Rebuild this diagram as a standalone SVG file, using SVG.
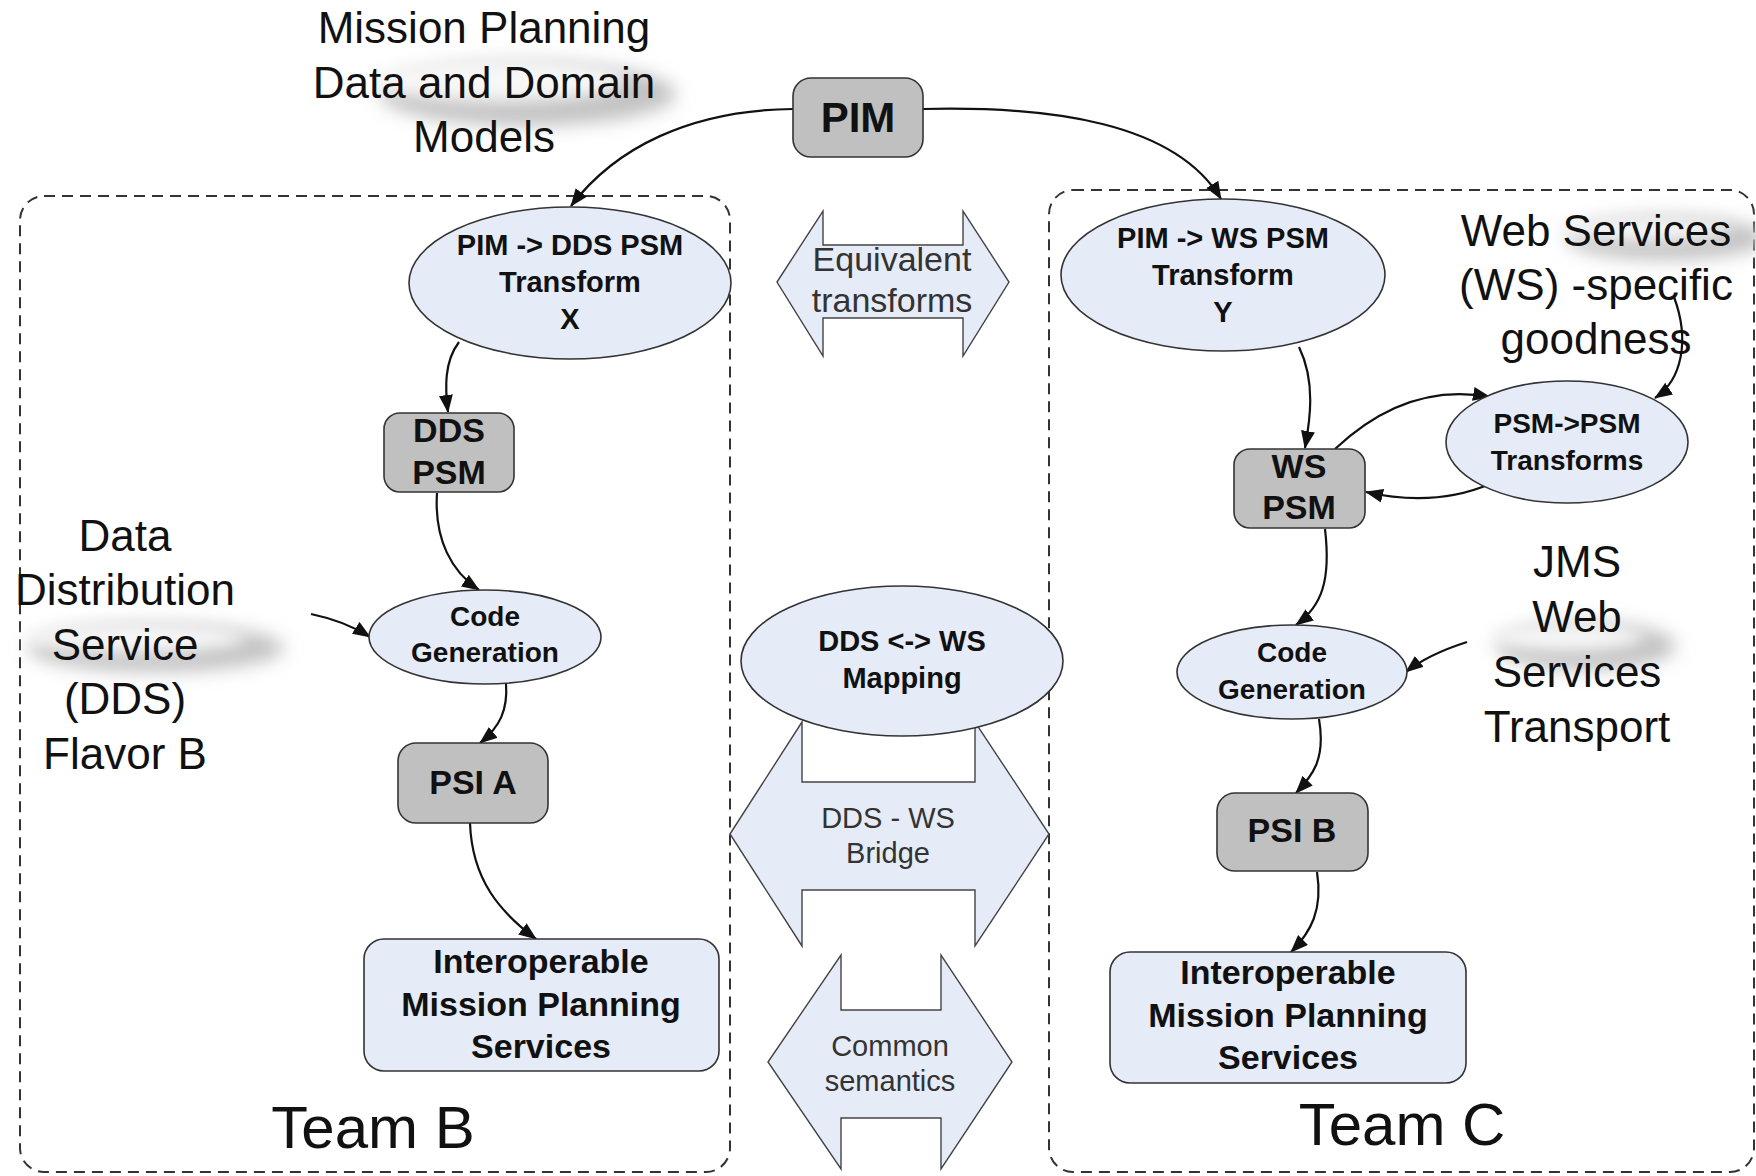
<svg xmlns="http://www.w3.org/2000/svg" width="1756" height="1176" viewBox="0 0 1756 1176">
<style>
.bg{fill:#ffffff}
.team{fill:none;stroke:#333;stroke-width:2;stroke-dasharray:11 7}
.blue{fill:#e5ebf7;stroke:#333;stroke-width:1.6}
.gray{fill:#c0c0c0;stroke:#333;stroke-width:1.6}
.big{fill:#e5ebf7;stroke:#444;stroke-width:1.4}
.b{font-family:"Liberation Sans",Arial,sans-serif;font-weight:bold;fill:#111;text-anchor:middle}
.r{font-family:"Liberation Sans",Arial,sans-serif;fill:#111;text-anchor:middle}
.g{font-family:"Liberation Sans",Arial,sans-serif;fill:#333;text-anchor:middle}
.c{fill:none;stroke:#111;stroke-width:2.2;marker-end:url(#ah)}
.cs{fill:#c2c2c2;filter:url(#blurA)}
.cw{fill:#f7f7f7;filter:url(#blurB)}
</style>
<defs>
<marker id="ah" markerUnits="userSpaceOnUse" markerWidth="20" markerHeight="16" refX="17" refY="7" orient="auto">
<path d="M0,0 L18,7 L0,14 Z" fill="#111"/>
</marker>
<filter id="blurA" x="-50%" y="-50%" width="200%" height="200%"><feGaussianBlur stdDeviation="9"/></filter>
<filter id="blurB" x="-50%" y="-50%" width="200%" height="200%"><feGaussianBlur stdDeviation="8"/></filter>
</defs>
<rect class="bg" x="0" y="0" width="1756" height="1176"/>

<g id="team-b"><rect class="team" x="20" y="196" width="710" height="976" rx="24"/></g>
<g id="team-c"><rect class="team" x="1049" y="190" width="705" height="982" rx="24"/></g>

<g id="equivalent-transforms">
<path class="big" d="M777,282 L823,211 L823,245 L963,245 L963,211 L1009,282 L963,356 L963,318 L823,318 L823,356 Z"/>
<text class="g" x="892" y="271" font-size="34" fill="#222">Equivalent</text>
<text class="g" x="892" y="312" font-size="34" fill="#222">transforms</text>
</g>

<g id="dds-ws-bridge">
<path class="big" d="M730,834 L802,722 L802,782 L975,782 L975,722 L1049,834 L975,946 L975,890 L802,890 L802,946 Z"/>
<text class="g" x="888" y="828" font-size="29">DDS - WS</text>
<text class="g" x="888" y="863" font-size="29">Bridge</text>
</g>

<g id="common-semantics">
<path class="big" d="M768,1062 L841,955 L841,1010 L941,1010 L941,955 L1012,1062 L941,1169 L941,1118 L841,1118 L841,1169 Z"/>
<text class="g" x="890" y="1056" font-size="29">Common</text>
<text class="g" x="890" y="1091" font-size="29">semantics</text>
</g>

<g id="dds-ws-mapping">
<ellipse class="blue" cx="902" cy="661" rx="161" ry="75"/>
<text class="b" x="902" y="651" font-size="29">DDS &lt;-&gt; WS</text>
<text class="b" x="902" y="688" font-size="29">Mapping</text>
</g>

<g id="connectors">
<path class="c" d="M793,109 C690,110 615,148 571,206"/>
<path class="c" d="M923,109 C1050,106 1175,122 1221,199"/>
<path class="c" d="M459,342 C444,362 445,388 448,412"/>
<path class="c" d="M437,493 C434,540 452,572 479,590"/>
<path class="c" d="M311,614 C335,619 353,626 370,637"/>
<path class="c" d="M506,683 C508,710 500,727 480,743"/>
<path class="c" d="M470,823 C472,880 500,912 536,939"/>
<path class="c" d="M1299,347 C1316,382 1310,420 1305,448"/>
<path class="c" d="M1335,449 C1368,418 1420,384 1490,397"/>
<path class="c" d="M1490,484 C1452,500 1410,502 1366,492"/>
<path class="c" d="M1674,297 C1690,340 1682,380 1655,398"/>
<path class="c" d="M1325,529 C1331,580 1322,606 1296,625"/>
<path class="c" d="M1467,642 C1442,650 1421,660 1406,672"/>
<path class="c" d="M1319,719 C1326,760 1312,776 1296,793"/>
<path class="c" d="M1317,872 C1323,910 1311,932 1291,952"/>
</g>

<g id="clouds">
<ellipse class="cs" cx="528" cy="94" rx="148" ry="32"/>
<ellipse class="cw" cx="498" cy="80" rx="128" ry="22"/>
<ellipse class="cs" cx="156" cy="648" rx="128" ry="24"/>
<ellipse class="cw" cx="136" cy="638" rx="110" ry="15"/>
<ellipse class="cs" cx="1666" cy="238" rx="100" ry="22"/>
<ellipse class="cw" cx="1646" cy="229" rx="85" ry="12"/>
<ellipse class="cs" cx="1586" cy="646" rx="90" ry="24"/>
<ellipse class="cw" cx="1568" cy="637" rx="76" ry="14"/>
</g>

<g id="pim">
<rect class="gray" x="793" y="78" width="130" height="79" rx="18"/>
<text class="b" x="858" y="132" font-size="42">PIM</text>
</g>

<g id="pim-dds-transform">
<ellipse class="blue" cx="570" cy="283" rx="161" ry="76"/>
<text class="b" x="570" y="255" font-size="29">PIM -&gt; DDS PSM</text>
<text class="b" x="570" y="292" font-size="29">Transform</text>
<text class="b" x="570" y="329" font-size="29">X</text>
</g>

<g id="pim-ws-transform">
<ellipse class="blue" cx="1223" cy="275" rx="162" ry="76"/>
<text class="b" x="1223" y="248" font-size="29">PIM -&gt; WS PSM</text>
<text class="b" x="1223" y="285" font-size="29">Transform</text>
<text class="b" x="1223" y="322" font-size="29">Y</text>
</g>

<g id="dds-psm">
<rect class="gray" x="384" y="413" width="130" height="79" rx="16"/>
<text class="b" x="449" y="442" font-size="34">DDS</text>
<text class="b" x="449" y="484" font-size="34">PSM</text>
</g>

<g id="ws-psm">
<rect class="gray" x="1234" y="449" width="131" height="79" rx="16"/>
<text class="b" x="1299" y="478" font-size="34">WS</text>
<text class="b" x="1299" y="519" font-size="34">PSM</text>
</g>

<g id="psm-psm-transforms">
<ellipse class="blue" cx="1567" cy="442" rx="121" ry="61"/>
<text class="b" x="1567" y="433" font-size="28">PSM-&gt;PSM</text>
<text class="b" x="1567" y="470" font-size="28">Transforms</text>
</g>

<g id="code-gen-b">
<ellipse class="blue" cx="485" cy="637" rx="116" ry="47"/>
<text class="b" x="485" y="626" font-size="28">Code</text>
<text class="b" x="485" y="662" font-size="28">Generation</text>
</g>

<g id="code-gen-c">
<ellipse class="blue" cx="1292" cy="672" rx="115" ry="47"/>
<text class="b" x="1292" y="662" font-size="28">Code</text>
<text class="b" x="1292" y="699" font-size="28">Generation</text>
</g>

<g id="psi-a">
<rect class="gray" x="398" y="743" width="150" height="80" rx="18"/>
<text class="b" x="473" y="794" font-size="34">PSI A</text>
</g>

<g id="psi-b">
<rect class="gray" x="1217" y="793" width="151" height="78" rx="18"/>
<text class="b" x="1292" y="842" font-size="34">PSI B</text>
</g>

<g id="interop-b">
<rect class="blue" x="364" y="939" width="355" height="132" rx="20"/>
<text class="b" x="541" y="973" font-size="34">Interoperable</text>
<text class="b" x="541" y="1016" font-size="34">Mission Planning</text>
<text class="b" x="541" y="1058" font-size="34">Services</text>
</g>

<g id="interop-c">
<rect class="blue" x="1110" y="952" width="356" height="131" rx="20"/>
<text class="b" x="1288" y="984" font-size="34">Interoperable</text>
<text class="b" x="1288" y="1027" font-size="34">Mission Planning</text>
<text class="b" x="1288" y="1069" font-size="34">Services</text>
</g>

<g id="mission-planning-data">
<text class="r" x="484" y="43" font-size="44">Mission Planning</text>
<text class="r" x="484" y="98" font-size="44">Data and Domain</text>
<text class="r" x="484" y="152" font-size="44">Models</text>
</g>

<g id="dds-flavor-b">
<text class="r" x="125" y="551" font-size="44">Data</text>
<text class="r" x="125" y="605" font-size="44">Distribution</text>
<text class="r" x="125" y="660" font-size="44">Service</text>
<text class="r" x="125" y="714" font-size="44">(DDS)</text>
<text class="r" x="125" y="769" font-size="44">Flavor B</text>
</g>

<g id="ws-goodness">
<text class="r" x="1596" y="246" font-size="44">Web Services</text>
<text class="r" x="1596" y="300" font-size="44">(WS) -specific</text>
<text class="r" x="1596" y="354" font-size="44">goodness</text>
</g>

<g id="jms-transport">
<text class="r" x="1577" y="577" font-size="44">JMS</text>
<text class="r" x="1577" y="632" font-size="44">Web</text>
<text class="r" x="1577" y="687" font-size="44">Services</text>
<text class="r" x="1577" y="742" font-size="44">Transport</text>
</g>

<g id="team-labels">
<text class="r" x="373" y="1148" font-size="60">Team B</text>
<text class="r" x="1402" y="1145" font-size="60">Team C</text>
</g>
</svg>
